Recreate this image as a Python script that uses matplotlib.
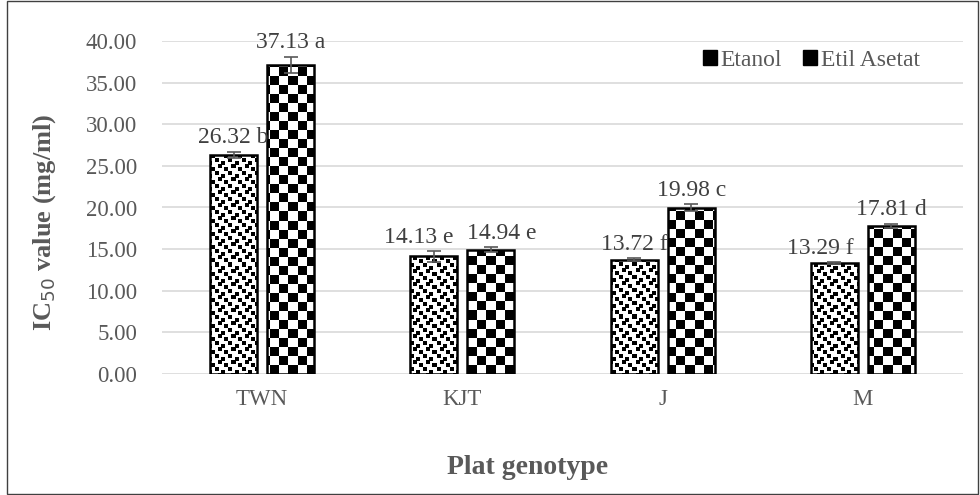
import numpy as np
import matplotlib
matplotlib.use("Agg")
import matplotlib.pyplot as plt
from matplotlib.patches import Patch, Rectangle

# data
genotypes = ["TWN", "KJT", "J", "M"]
etanol = [26.32, 14.13, 13.72, 13.29]
etil_asetat = [37.13, 14.94, 19.98, 17.81]
etanol_err = [0.4, 0.65, 0.2, 0.12]
etil_err = [1.0, 0.3, 0.4, 0.25]
etanol_letters = ["b", "e", "f", "f"]
etil_letters = ["a", "e", "c", "d"]
y_ticks = [0, 5, 10, 15, 20, 25, 30, 35, 40]

plt.rcParams['font.family'] = ['Liberation Serif', 'DejaVu Serif']
grey = '#595959'

fig = plt.figure(figsize=(9.8, 4.95), dpi=100)
ax = fig.add_axes([162 / 980, 121 / 495, 801 / 980, 333 / 495])

x = np.arange(len(genotypes))
w = 0.235
off = 0.1425

ax.set_xlim(-0.5, len(genotypes) - 0.5)
ax.set_ylim(0, 40)
ax.set_yticks(y_ticks)
ax.set_yticklabels([f"{v:.2f}" for v in y_ticks])
ax.set_xticks(x)
ax.set_xticklabels(genotypes)
ax.tick_params(length=0, labelsize=16.5, labelcolor=grey)
ax.tick_params(axis='y', pad=18)
ax.tick_params(axis='x', pad=11)
for s in ax.spines.values():
    s.set_visible(False)
ax.grid(axis='y', color='#d9d9d9', lw=1.2, zorder=0)
ax.set_axisbelow(True)

bars1 = ax.bar(x - off, etanol, w, facecolor='none', edgecolor='black', lw=1.8, zorder=3)
bars2 = ax.bar(x + off, etil_asetat, w, facecolor='none', edgecolor='black', lw=1.8, zorder=3)


def checker(px, py):
    return ((px // 9 + py // 9) % 2).astype(float)


# small confetti tile: 4x4 black dots on white, staggered
T = 13
tile = np.ones((T, T))
for (cx, cy) in [(0, 0), (7, 3), (3, 7), (10, 10)]:
    for dy in range(4):
        for dx in range(4):
            tile[(cy + dy) % T, (cx + dx) % T] = 0


def confetti(px, py):
    return tile[py % T, px % T]


def fill_texture(bars, func):
    for b in bars:
        x0, y0 = b.get_x(), b.get_y()
        x1, y1 = x0 + b.get_width(), y0 + b.get_height()
        (dx0, dy0), (dx1, dy1) = ax.transData.transform([(x0, y0), (x1, y1)])
        W = max(int(round(dx1 - dx0)), 1)
        H = max(int(round(dy1 - dy0)), 1)
        px, py = np.meshgrid(np.arange(W) + int(dx0), np.arange(H))
        img = func(px, py)
        im = ax.imshow(img, extent=(x0, x1, y0, y1), origin='lower', cmap='gray',
                       vmin=0, vmax=1, interpolation='nearest', aspect='auto', zorder=2)
        im.set_clip_path(b)


fill_texture(bars1, confetti)
fill_texture(bars2, checker)
ax.set_xlim(-0.5, len(genotypes) - 0.5)
ax.set_ylim(0, 40)

ax.errorbar(x - off, etanol, yerr=etanol_err, fmt='none', ecolor=grey, elinewidth=1.2,
            capsize=5, capthick=1.2, zorder=4)
ax.errorbar(x + off, etil_asetat, yerr=etil_err, fmt='none', ecolor=grey, elinewidth=1.2,
            capsize=5, capthick=1.2, zorder=4)

label_dx1 = [0, -11, 0, -10]
label_dx2 = [0, 8, 0, 0]
for i in range(len(genotypes)):
    ax.annotate(f"{etanol[i]:.2f} {etanol_letters[i]}", (x[i] - off, etanol[i] + etanol_err[i]),
                xytext=(label_dx1[i], 6), textcoords='offset points', ha='center', va='baseline',
                fontsize=17, color='#404040')
    ax.annotate(f"{etil_asetat[i]:.2f} {etil_letters[i]}", (x[i] + off, etil_asetat[i] + etil_err[i]),
                xytext=(label_dx2[i], 6), textcoords='offset points', ha='center', va='baseline',
                fontsize=17, color='#404040')

handles = [Patch(facecolor='black', edgecolor='black', label='Etanol'),
           Patch(facecolor='black', edgecolor='black', label='Etil Asetat')]
leg = fig.legend(handles=handles, loc='center right', bbox_to_anchor=(920 / 980, 1 - 60 / 495),
                 ncol=2, frameon=False, fontsize=17, handlelength=0.6, handleheight=0.6,
                 handletextpad=0.15, columnspacing=0.9, borderpad=0, borderaxespad=0)
for t in leg.get_texts():
    t.set_color(grey)

fig.text(45 / 980, 1 - 222 / 495, r"IC$_{50}$ value (mg/ml)", rotation=90, ha='center', va='center',
         fontsize=19, fontweight='bold', color=grey)
fig.text(528 / 980, 1 - 468 / 495, "Plat genotype", ha='center', va='center',
         fontsize=20, fontweight='bold', color=grey)

fig.patches.append(Rectangle((7 / 980, 1 / 495), 971 / 980, 493 / 495, transform=fig.transFigure,
                             fill=False, edgecolor='#404040', lw=1))

fig.savefig("out.png", dpi=100)
